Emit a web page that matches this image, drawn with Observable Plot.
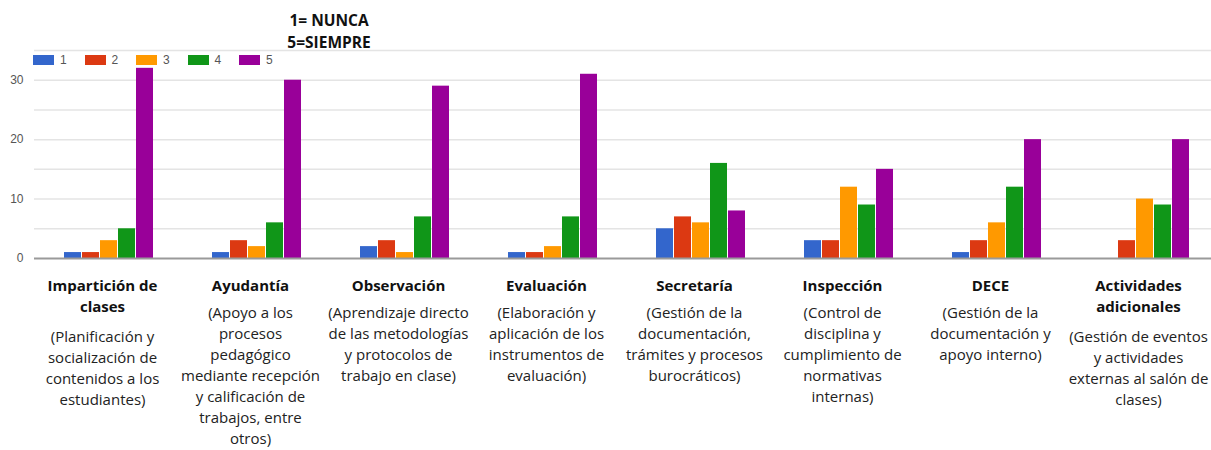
<!DOCTYPE html>
<html>
<head>
<meta charset="utf-8">
<script src="https://cdn.jsdelivr.net/npm/d3@7"></script>
<script src="https://cdn.jsdelivr.net/npm/@observablehq/plot@0.6"></script>
<style>
  html, body { margin: 0; padding: 0; background: #fff; }
  #wrap { position: relative; width: 1211px; height: 450px; overflow: hidden; }
  #title { position: absolute; left: 229px; top: 9px; width: 200px; text-align: center;
           font-family: "Open Sans", sans-serif; font-weight: 700; font-size: 15.5px; line-height: 22px; color: #111; }
  #legend { position: absolute; left: 33px; top: 53px; display: flex; font-family: "Liberation Sans", Arial, sans-serif;
            font-size: 12px; color: #555; }
  .item { display: flex; align-items: center; width: 51.5px; }
  .sw { width: 21px; height: 10px; margin-right: 6px; }
</style>
</head>
<body>
<div id="wrap">
  <div id="chart"></div>
  <div id="title">1= NUNCA<br>5=SIEMPRE</div>
  <div id="legend"></div>
</div>
<script>
// ---- data ----
const categories = [
  "Impartición de clases", "Ayudantía", "Observación", "Evaluación",
  "Secretaría", "Inspección", "DECE", "Actividades adicionales"
];
const titles = [
  "Impartición de\nclases", "Ayudantía", "Observación", "Evaluación",
  "Secretaría", "Inspección", "DECE", "Actividades\nadicionales"
];
const descriptions = [
  "(Planificación y\nsocialización de\ncontenidos a los\nestudiantes)",
  "(Apoyo a los\nprocesos\npedagógico\nmediante recepción\ny calificación de\ntrabajos, entre\notros)",
  "(Aprendizaje directo\nde las metodologías\ny protocolos de\ntrabajo en clase)",
  "(Elaboración y\naplicación de los\ninstrumentos de\nevaluación)",
  "(Gestión de la\ndocumentación,\ntrámites y procesos\nburocráticos)",
  "(Control de\ndisciplina y\ncumplimiento de\nnormativas\ninternas)",
  "(Gestión de la\ndocumentación y\napoyo interno)",
  "(Gestión de eventos\ny actividades\nexternas al salón de\nclases)"
];
const seriesNames = ["1", "2", "3", "4", "5"];
const s1 = [1, 1, 2, 1, 5, 3, 1, 0];
const s2 = [1, 3, 3, 1, 7, 3, 3, 3];
const s3 = [3, 2, 1, 2, 6, 12, 6, 10];
const s4 = [5, 6, 7, 7, 16, 9, 12, 9];
const s5 = [32, 30, 29, 31, 8, 15, 20, 20];
const colors = ["#3366cc", "#dc3912", "#ff9900", "#109618", "#990099"];
const yTicks = [0, 10, 20, 30];

// ---- build tables ----
const seriesValues = [s1, s2, s3, s4, s5];
const rows = [];
categories.forEach((c, i) => {
  seriesNames.forEach((s, j) => rows.push({category: c, series: s, value: seriesValues[j][i]}));
});
const labels = categories.map((c, i) => ({
  category: c, title: titles[i], desc: descriptions[i], titleLines: titles[i].split("\n").length
}));

const font = "'Open Sans', sans-serif";
const chart = Plot.plot({
  width: 1211,
  height: 450,
  marginLeft: 33,
  marginRight: -7,
  marginTop: 50,
  marginBottom: 192,
  style: {fontFamily: "'Liberation Sans', Arial, sans-serif", background: "transparent"},
  fx: {domain: categories, padding: 0, axis: null},
  x: {domain: seriesNames, paddingInner: 0.08, paddingOuter: 1.56, axis: null},
  y: {domain: [0, 35], axis: null},
  color: {domain: seriesNames, range: colors},
  marks: [
    Plot.ruleY(d3.range(5, 36, 5), {stroke: "#e4e4e4", strokeWidth: 1.5}),
    Plot.barY(rows, {fx: "category", x: "series", y: "value", fill: "series"}),
    Plot.ruleY([0], {stroke: "#9a9a9a", strokeWidth: 2}),
    Plot.axisY({ticks: yTicks, tickSize: 0, tickPadding: 11, fontSize: 12, color: "#555", label: null}),
    Plot.text(labels, {fx: "category", text: "title", frameAnchor: "bottom", lineAnchor: "top",
      dy: 18, dx: -6, fontFamily: font, fontWeight: 700, fontSize: 15, lineHeight: 1.4, fill: "#111"}),
    Plot.text(labels.filter(d => d.titleLines === 1), {fx: "category", text: "desc", frameAnchor: "bottom", lineAnchor: "top",
      dy: 45, dx: -6, fontFamily: font, fontSize: 15, lineHeight: 1.4, fill: "#222"}),
    Plot.text(labels.filter(d => d.titleLines === 2), {fx: "category", text: "desc", frameAnchor: "bottom", lineAnchor: "top",
      dy: 69, dx: -6, fontFamily: font, fontSize: 15, lineHeight: 1.4, fill: "#222"})
  ]
});
document.getElementById("chart").appendChild(chart);

// legend
const leg = document.getElementById("legend");
seriesNames.forEach((s, i) => {
  const it = document.createElement("div");
  it.className = "item";
  const sw = document.createElement("div");
  sw.className = "sw";
  sw.style.background = colors[i];
  const t = document.createElement("span");
  t.textContent = s;
  it.appendChild(sw); it.appendChild(t);
  leg.appendChild(it);
});
</script>
</body>
</html>
